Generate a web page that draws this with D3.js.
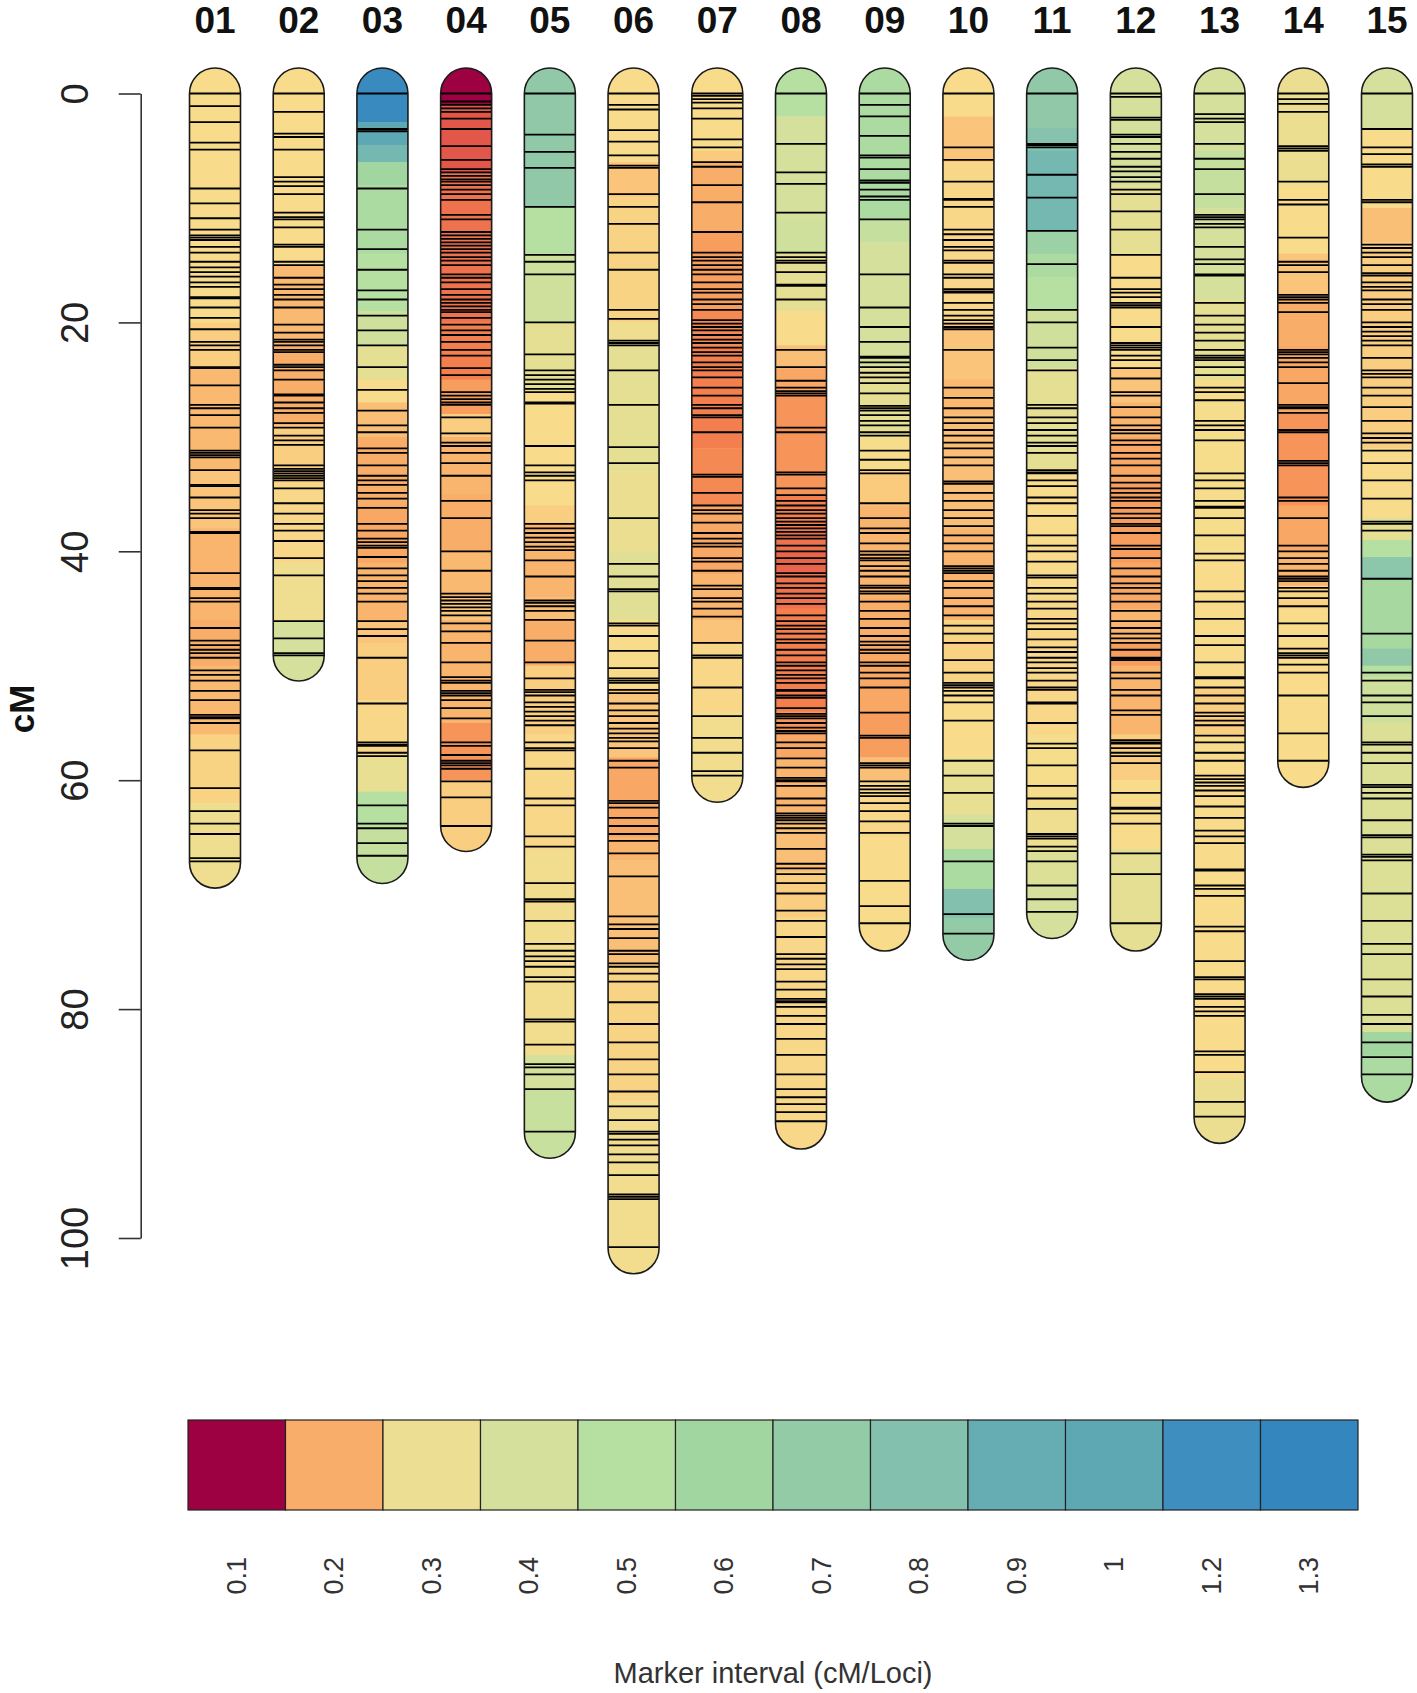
<!DOCTYPE html>
<html>
<head>
<meta charset="utf-8">
<script src="https://cdn.jsdelivr.net/npm/d3@7/dist/d3.min.js"></script>
<style>
  html, body { margin: 0; padding: 0; background: #fff; }
  svg { display: block; font-family: "Liberation Sans", Arial, sans-serif; }
</style>
</head>
<body>
<div id="chart"></div>
<script>
// chromosome names and genetic lengths (cM)
const chromosomes = ['01', '02', '03', '04', '05', '06', '07', '08', '09', '10', '11', '12', '13', '14', '15'];
const chrLengths  = [67.2, 49.1, 66.8, 64.0, 90.8, 100.9, 59.7, 90.0, 72.7, 73.5, 71.6, 72.7, 89.5, 58.4, 85.9];

// marker positions (cM), one list per chromosome
const markerPos = [
  [0, 1.1, 2.5, 4.3, 4.9, 8.3, 9.6, 10.9, 11.9, 12.4, 12.6, 12.8, 13.4, 13.9, 14.7, 15.2, 15.6, 16.0, 16.5, 16.9, 17.8, 17.9, 18.7, 19.6, 20.6, 21.7, 22.0, 22.4, 23.9, 24.0, 25.5, 27.2, 27.5, 28.1, 29.2, 31.2, 31.4, 31.6, 31.8, 32.9, 34.2, 34.3, 35.3, 36.4, 36.7, 37.1, 38.3, 38.4, 41.9, 43.2, 43.3, 44.1, 44.4, 46.7, 47.8, 48.2, 48.6, 48.9, 49.3, 50.4, 50.8, 51.3, 52.2, 53.0, 54.3, 54.5, 54.6, 55.0, 57.4, 60.7, 62.7, 63.8, 64.7, 66.8, 67.1],
  [0, 1.6, 3.5, 3.8, 4.9, 7.3, 7.7, 8.1, 8.8, 10.4, 10.8, 11.0, 11.7, 13.2, 13.4, 14.7, 15.0, 16.1, 16.7, 17.1, 17.6, 18.0, 18.7, 20.2, 20.9, 21.5, 21.7, 22.0, 22.4, 22.6, 23.7, 23.9, 24.2, 25.0, 26.3, 26.4, 27.0, 27.5, 27.9, 28.8, 29.2, 29.9, 30.3, 30.7, 32.5, 32.8, 33.0, 33.2, 33.4, 33.6, 33.8, 34.5, 35.8, 36.7, 37.6, 38.2, 39.1, 40.6, 42.1, 46.1, 47.6, 48.9, 49.1],
  [0, 3.1, 3.3, 8.3, 11.9, 13.6, 15.4, 17.2, 18.0, 19.4, 20.7, 22.0, 23.9, 25.9, 27.7, 29.0, 29.6, 31.0, 31.4, 32.5, 33.4, 33.8, 34.2, 34.9, 35.4, 36.2, 37.6, 38.2, 38.9, 39.2, 39.5, 39.7, 40.5, 41.5, 42.1, 42.6, 43.2, 43.7, 44.4, 46.1, 46.8, 47.4, 49.3, 53.3, 56.7, 56.9, 57.0, 57.6, 57.9, 62.2, 63.8, 64.2, 65.5, 66.6],
  [0, 0.7, 1.0, 1.3, 1.6, 2.2, 3.1, 4.6, 5.8, 6.6, 6.9, 7.2, 7.5, 7.7, 8.0, 8.4, 8.8, 9.3, 10.6, 11.0, 12.1, 12.4, 12.7, 13.0, 13.3, 13.6, 13.9, 14.3, 14.6, 15.0, 15.8, 16.1, 16.5, 17.1, 17.6, 18.0, 18.3, 18.6, 18.9, 19.1, 19.6, 20.2, 20.7, 21.1, 21.7, 22.4, 22.9, 24.0, 24.6, 26.1, 26.4, 26.7, 27.0, 27.2, 28.3, 29.7, 30.5, 30.8, 31.4, 32.3, 33.4, 35.6, 37.1, 40.0, 41.7, 43.7, 44.0, 44.3, 44.6, 44.9, 45.2, 45.6, 46.3, 47.0, 48.0, 49.7, 51.0, 51.3, 51.5, 52.2, 52.4, 52.6, 53.0, 53.7, 54.6, 56.7, 57.0, 57.8, 58.3, 58.5, 58.7, 59.0, 60.1, 61.5, 64.0],
  [0, 3.6, 5.1, 6.5, 9.9, 14.1, 14.7, 15.8, 20.0, 22.8, 24.2, 24.6, 25.0, 25.4, 25.8, 26.1, 27.0, 27.1, 30.8, 32.5, 33.1, 33.4, 33.8, 37.6, 38.0, 38.4, 38.8, 39.2, 39.6, 39.9, 40.8, 42.2, 44.3, 44.5, 44.8, 45.2, 46.0, 47.8, 49.7, 51.1, 52.1, 52.3, 52.6, 53.2, 53.6, 54.0, 54.4, 54.8, 55.2, 56.7, 57.2, 57.4, 59.0, 61.6, 62.2, 64.9, 65.8, 69.0, 70.4, 70.6, 72.3, 74.3, 74.9, 75.4, 75.8, 76.3, 77.2, 77.6, 80.9, 81.1, 83.1, 84.8, 85.1, 85.7, 87.0, 90.7],
  [0, 1.0, 1.4, 3.2, 4.2, 5.4, 6.3, 6.5, 8.8, 9.9, 11.4, 13.9, 15.4, 18.9, 19.7, 21.6, 21.8, 22.0, 24.2, 27.2, 30.9, 32.3, 37.1, 41.1, 42.2, 43.3, 43.5, 46.3, 46.5, 47.4, 48.7, 50.2, 51.1, 51.3, 51.5, 52.1, 52.4, 53.3, 53.9, 54.4, 55.0, 55.5, 55.9, 56.3, 56.6, 57.2, 58.3, 58.9, 61.8, 62.0, 62.4, 63.3, 64.0, 64.7, 65.3, 66.4, 68.4, 71.9, 72.6, 73.0, 73.8, 74.9, 75.2, 76.0, 76.3, 76.9, 77.6, 79.4, 81.3, 82.9, 84.4, 85.7, 87.2, 88.5, 89.7, 90.7, 90.9, 91.4, 91.9, 92.7, 93.4, 94.5, 96.2, 96.4, 96.6, 100.8],
  [0, 0.2, 0.5, 0.8, 1.3, 2.2, 4.0, 4.7, 6.0, 6.4, 8.0, 9.5, 12.1, 13.9, 14.3, 14.6, 15.0, 15.4, 15.8, 16.5, 17.1, 17.4, 18.0, 18.4, 18.9, 19.8, 20.1, 20.4, 20.7, 21.1, 21.5, 21.8, 22.2, 22.6, 22.9, 23.5, 23.9, 24.2, 24.8, 25.7, 26.4, 27.2, 27.5, 28.1, 28.3, 29.6, 33.3, 33.5, 34.9, 36.0, 36.4, 36.7, 37.5, 38.4, 38.9, 39.3, 39.6, 40.6, 40.9, 41.7, 43.0, 43.3, 44.1, 44.4, 45.0, 45.7, 48.0, 49.1, 49.3, 51.9, 54.4, 56.3, 57.6, 59.2, 59.6],
  [0, 4.4, 6.9, 7.9, 10.4, 13.9, 14.3, 14.6, 14.8, 15.6, 16.7, 16.8, 18.0, 22.4, 23.9, 25.1, 25.7, 26.0, 26.2, 26.4, 29.2, 29.6, 33.1, 33.3, 34.5, 35.1, 35.6, 36.0, 36.4, 36.7, 37.1, 37.4, 37.7, 38.0, 38.3, 38.6, 38.9, 39.5, 40.0, 40.6, 41.1, 41.9, 42.2, 42.8, 43.2, 43.7, 44.1, 44.6, 45.6, 46.1, 46.5, 46.8, 47.2, 47.7, 48.0, 48.6, 49.1, 49.7, 50.0, 50.4, 50.8, 51.1, 51.5, 52.1, 52.2, 52.6, 52.8, 53.7, 54.2, 54.4, 54.6, 55.0, 55.4, 55.7, 55.9, 56.7, 57.2, 58.1, 58.9, 59.8, 60.0, 60.1, 60.5, 61.6, 62.2, 62.9, 63.1, 63.3, 63.5, 63.8, 64.2, 64.6, 66.0, 67.3, 67.7, 68.2, 69.0, 69.9, 71.4, 72.3, 73.7, 75.2, 75.6, 76.1, 76.5, 77.6, 78.3, 79.1, 79.3, 79.4, 79.8, 80.6, 81.3, 82.6, 84.0, 85.7, 87.0, 87.7, 88.3, 89.0, 89.8],
  [0, 1.0, 2.0, 3.7, 5.4, 5.6, 6.6, 7.6, 7.8, 8.4, 9.0, 9.3, 11.0, 15.8, 18.7, 20.4, 21.7, 23.0, 23.1, 23.5, 23.9, 24.4, 24.8, 25.3, 26.2, 27.3, 27.5, 27.7, 28.1, 28.6, 29.0, 29.6, 29.9, 31.2, 32.0, 32.9, 33.2, 35.8, 37.1, 38.0, 38.4, 39.3, 40.0, 40.3, 40.6, 40.8, 41.3, 41.7, 42.2, 43.0, 43.2, 43.5, 43.7, 44.4, 45.2, 45.9, 46.7, 47.4, 47.9, 48.2, 48.6, 48.9, 49.7, 50.0, 50.6, 51.1, 51.9, 54.1, 56.1, 56.3, 58.5, 58.7, 58.9, 60.1, 60.5, 60.8, 61.1, 61.4, 62.0, 62.7, 63.6, 64.6, 68.8, 71.0, 72.5],
  [0, 4.7, 5.8, 7.7, 9.2, 9.3, 9.9, 11.9, 12.3, 12.8, 13.4, 13.7, 14.6, 14.8, 15.8, 16.1, 17.1, 17.3, 17.4, 18.3, 18.9, 19.4, 19.8, 20.1, 20.4, 20.6, 22.4, 25.7, 26.6, 27.5, 28.3, 28.8, 29.4, 29.9, 30.5, 31.0, 31.8, 32.5, 33.9, 34.1, 34.9, 35.6, 36.4, 37.1, 37.8, 38.6, 39.3, 40.0, 41.3, 41.5, 41.7, 41.9, 42.6, 43.2, 44.1, 44.8, 45.6, 46.5, 47.2, 48.0, 49.5, 50.6, 51.5, 51.7, 51.9, 52.2, 52.6, 53.2, 54.8, 58.3, 59.6, 61.1, 63.8, 64.0, 67.1, 71.7, 73.4],
  [0, 4.4, 4.5, 4.7, 7.1, 9.1, 12.0, 14.9, 18.9, 20.0, 22.2, 23.3, 24.2, 27.2, 27.5, 28.3, 28.8, 29.4, 29.9, 30.5, 30.8, 31.4, 32.9, 33.1, 33.2, 33.8, 34.3, 35.3, 35.8, 36.9, 38.6, 39.5, 40.0, 40.9, 42.1, 42.3, 43.2, 43.7, 44.4, 45.0, 45.9, 46.3, 46.8, 47.7, 48.4, 48.8, 49.3, 49.7, 50.2, 50.6, 51.3, 51.9, 52.1, 53.2, 53.3, 55.0, 56.8, 57.2, 58.7, 60.5, 61.6, 62.5, 64.7, 64.9, 65.1, 65.8, 66.2, 67.1, 69.2, 70.4, 71.5],
  [0, 0.3, 2.1, 2.3, 3.6, 3.8, 4.4, 5.1, 5.7, 6.4, 6.8, 7.3, 7.7, 8.4, 8.8, 10.3, 11.9, 14.1, 16.1, 17.1, 17.4, 17.8, 18.3, 18.5, 18.7, 20.4, 21.8, 22.0, 22.2, 22.4, 22.9, 23.3, 24.0, 24.9, 26.1, 26.4, 27.4, 28.3, 29.0, 29.4, 29.7, 30.3, 30.7, 31.4, 31.9, 32.5, 33.4, 34.0, 34.5, 34.9, 35.3, 35.6, 36.2, 36.7, 37.1, 37.6, 37.8, 38.4, 39.5, 39.8, 40.6, 41.5, 42.2, 42.8, 43.2, 43.7, 44.4, 45.2, 46.1, 46.7, 47.2, 47.6, 48.0, 48.6, 49.3, 49.4, 49.5, 50.6, 51.1, 52.1, 52.6, 53.9, 54.3, 56.5, 56.7, 56.8, 57.2, 57.6, 57.9, 58.5, 61.1, 62.4, 62.5, 62.9, 63.8, 66.4, 68.2, 72.5],
  [0, 1.8, 2.2, 2.5, 4.4, 5.7, 6.6, 8.8, 10.6, 10.8, 11.0, 11.4, 11.7, 13.4, 14.5, 14.9, 15.8, 15.9, 18.3, 19.4, 20.2, 20.9, 21.6, 22.4, 22.9, 23.1, 23.3, 23.9, 24.6, 25.7, 26.1, 26.8, 28.6, 29.0, 29.4, 30.3, 33.2, 33.8, 34.5, 35.6, 36.1, 36.2, 37.1, 38.6, 40.2, 40.8, 43.5, 44.4, 45.9, 47.4, 48.2, 49.7, 51.0, 51.1, 51.9, 52.6, 53.3, 54.1, 54.4, 54.8, 55.2, 56.1, 56.7, 57.6, 58.3, 59.6, 59.9, 60.2, 60.5, 60.9, 61.4, 62.3, 63.3, 64.4, 64.9, 65.5, 67.8, 67.9, 69.2, 69.5, 70.1, 72.8, 73.2, 75.8, 77.2, 77.4, 78.7, 78.9, 79.1, 79.8, 80.2, 80.6, 83.7, 84.0, 85.5, 88.1, 89.4],
  [0, 0.5, 0.9, 1.6, 4.6, 4.8, 5.0, 7.7, 9.3, 9.7, 12.6, 14.7, 15.0, 15.6, 17.6, 17.8, 18.0, 18.3, 19.1, 22.4, 22.6, 22.8, 23.1, 23.5, 23.9, 25.3, 27.2, 27.4, 27.5, 27.9, 29.4, 29.6, 32.1, 32.3, 32.5, 35.3, 35.6, 37.1, 39.5, 40.0, 40.6, 41.1, 41.7, 42.2, 42.4, 42.6, 43.2, 43.5, 44.1, 44.8, 46.3, 47.4, 48.5, 48.9, 49.1, 49.3, 49.9, 50.6, 52.6, 55.9, 58.3],
  [0, 3.1, 4.7, 5.3, 6.2, 6.4, 9.3, 9.5, 13.2, 13.5, 13.9, 14.3, 15.0, 15.7, 15.9, 16.5, 16.9, 17.2, 18.0, 18.4, 18.9, 20.0, 20.4, 20.8, 21.2, 21.6, 22.0, 23.1, 24.2, 24.5, 24.8, 25.7, 26.4, 27.4, 28.6, 29.7, 30.1, 30.5, 31.2, 32.3, 33.8, 35.4, 37.4, 37.6, 38.2, 42.4, 47.2, 50.6, 51.3, 52.6, 53.2, 54.4, 56.7, 56.9, 57.6, 58.5, 60.4, 60.6, 61.1, 61.6, 63.5, 64.8, 65.0, 66.5, 66.7, 67.0, 69.9, 72.3, 74.3, 75.2, 77.4, 78.9, 80.5, 81.3, 82.9, 84.2, 85.7]
];

// local marker interval (cM/locus) along each chromosome: [start cM, interval]
const intervalBands = [
  [[0, 0.3], [20, 0.27], [24, 0.23], [33, 0.25], [38, 0.22], [46, 0.21], [50, 0.23], [56, 0.28], [62, 0.33]],
  [[0, 0.3], [15, 0.23], [22, 0.21], [29, 0.27], [34, 0.29], [41, 0.33], [46, 0.4]],
  [[0, 1.25], [2.5, 1.0], [4.5, 0.85], [6, 0.6], [8, 0.55], [14, 0.5], [19, 0.42], [22, 0.36], [25, 0.3], [27, 0.24], [30, 0.21], [36, 0.2], [41, 0.22], [46, 0.25], [48, 0.27], [53, 0.29], [58, 0.35], [61, 0.5], [64, 0.45]],
  [[0, 0.1], [1, 0.13], [7, 0.15], [20, 0.16], [25, 0.19], [28, 0.27], [30, 0.22], [35, 0.21], [40, 0.23], [44, 0.25], [46, 0.22], [55, 0.18], [60, 0.27]],
  [[0, 0.72], [10, 0.5], [14, 0.42], [20, 0.36], [26, 0.3], [36, 0.27], [37.5, 0.22], [44, 0.24], [46, 0.21], [50, 0.27], [56, 0.29], [66, 0.32], [84, 0.4], [87, 0.44]],
  [[0, 0.3], [6, 0.25], [9, 0.28], [20, 0.33], [22, 0.36], [33, 0.34], [40, 0.37], [46, 0.3], [52, 0.25], [58, 0.2], [65, 0.22], [67, 0.24], [76, 0.28], [88, 0.32]],
  [[0, 0.3], [5, 0.26], [6, 0.21], [12, 0.19], [19, 0.17], [22, 0.16], [31, 0.17], [36, 0.2], [42, 0.22], [46, 0.25], [48, 0.29], [54, 0.32]],
  [[0, 0.5], [2, 0.4], [11, 0.42], [14, 0.36], [19, 0.3], [22, 0.24], [24, 0.2], [26, 0.18], [35, 0.16], [38, 0.15], [40, 0.14], [42, 0.15], [45, 0.16], [54, 0.18], [56, 0.2], [58, 0.22], [63, 0.24], [68, 0.27], [72, 0.29]],
  [[0, 0.55], [11, 0.45], [13, 0.4], [24, 0.36], [30, 0.31], [33, 0.26], [36, 0.22], [44, 0.21], [48, 0.2], [54, 0.19], [58, 0.24], [60, 0.29], [65, 0.3]],
  [[0, 0.3], [2, 0.25], [6, 0.29], [20, 0.25], [25, 0.23], [28, 0.24], [38, 0.22], [46, 0.28], [52, 0.3], [58, 0.35], [63, 0.4], [66, 0.55], [69.5, 0.8], [72, 0.7]],
  [[0, 0.72], [3, 0.78], [5, 0.85], [12, 0.65], [14, 0.55], [16, 0.5], [19, 0.42], [24, 0.36], [33, 0.3], [44, 0.29], [56, 0.31], [62, 0.33], [66, 0.38], [69, 0.4]],
  [[0, 0.4], [8, 0.36], [14, 0.3], [24, 0.25], [27, 0.22], [30, 0.2], [34, 0.19], [41, 0.2], [45, 0.22], [48, 0.19], [50, 0.22], [56, 0.27], [60, 0.3], [66, 0.36]],
  [[0, 0.4], [5, 0.45], [10, 0.4], [18, 0.36], [25, 0.31], [40, 0.3], [52, 0.27], [56, 0.3], [86, 0.34]],
  [[0, 0.34], [8, 0.3], [14, 0.25], [18, 0.21], [22, 0.2], [28, 0.18], [36, 0.2], [40, 0.22], [43, 0.28], [45, 0.3]],
  [[0, 0.4], [3, 0.3], [10, 0.24], [13, 0.27], [31, 0.3], [37, 0.36], [39, 0.5], [40.5, 0.75], [42.5, 0.58], [48.5, 0.72], [50, 0.5], [51, 0.42], [55, 0.38], [82, 0.6], [84, 0.55]]
];

// legend classes
const legendValues = [0.1, 0.2, 0.3, 0.4, 0.5, 0.6, 0.7, 0.8, 0.9, 1, 1.2, 1.3];
const legendLabels = ['0.1', '0.2', '0.3', '0.4', '0.5', '0.6', '0.7', '0.8', '0.9', '1', '1.2', '1.3'];
const legendColors = ['#9e0142', '#f9ad6a', '#ecdf94', '#d4e09b', '#b6e0a1', '#a2d6a0', '#94cba7', '#83c0ae', '#66adb3', '#5ea8b4', '#3e8fc0', '#3486be'];

// finer colour ramp used for the chromosome fill
const rampValues = [0.1, 0.13, 0.16, 0.2, 0.25, 0.3, 0.35, 0.4, 0.5, 0.6, 0.7, 0.8, 0.9, 1, 1.2, 1.3];
const rampColors = ['#9e0142', '#e2574a', '#f47f4e', '#f8a864', '#fac57a', '#f8dc8b', '#e9df92', '#d4e09b', '#b6e0a1', '#a2d6a0', '#94cba7', '#83c0ae', '#66adb3', '#5ea8b4', '#3e8fc0', '#3486be'];

const yTicks = [0, 20, 40, 60, 80, 100];

const W = 1417, H = 1693;
const FONT = '"Liberation Sans", Arial, sans-serif';

const svg = d3.select('#chart').append('svg')
  .attr('width', W).attr('height', H)
  .attr('viewBox', `0 0 ${W} ${H}`);

// scales
const y = d3.scaleLinear().domain([0, 100]).range([93.5, 1238]);
const x = d3.scalePoint().domain(chromosomes).range([215, 1387]);
const chrW = 51;
const r = chrW / 2;

const color = d3.scaleLinear().domain(rampValues).range(rampColors)
  .interpolate(d3.interpolateRgb).clamp(true);

// y axis
const axisG = svg.append('g')
  .attr('transform', 'translate(140.7,0)')
  .call(d3.axisLeft(y).tickValues(yTicks).tickSize(22).tickSizeOuter(0).tickPadding(0));
axisG.select('.domain').attr('stroke', '#333').attr('stroke-width', 1.6);
axisG.selectAll('.tick line').attr('stroke', '#333').attr('stroke-width', 1.6);
axisG.selectAll('.tick text')
  .attr('transform', 'rotate(-90)')
  .attr('x', 0).attr('y', -53).attr('dy', 0)
  .attr('text-anchor', 'middle')
  .attr('fill', '#222')
  .attr('font-size', 38)
  .attr('font-family', FONT);

svg.append('text')
  .attr('transform', 'translate(34,709) rotate(-90)')
  .attr('text-anchor', 'middle')
  .attr('font-size', 35)
  .attr('font-weight', 'bold')
  .attr('fill', '#111')
  .text('cM');

// chromosome labels
svg.append('g').selectAll('text')
  .data(chromosomes)
  .join('text')
  .attr('x', d => x(d))
  .attr('y', 33)
  .attr('text-anchor', 'middle')
  .attr('font-size', 37)
  .attr('font-weight', 'bold')
  .attr('fill', '#111')
  .text(d => d);

// chromosomes
const defs = svg.append('defs');
chromosomes.forEach((chr, i) => {
  const len = chrLengths[i];
  const top = y(0) - r;
  const bottom = y(len) + r;

  defs.append('clipPath').attr('id', `clip-${chr}`)
    .append('rect')
    .attr('x', -r).attr('y', top)
    .attr('width', chrW).attr('height', bottom - top)
    .attr('rx', r).attr('ry', r);

  const g = svg.append('g').attr('transform', `translate(${x(chr)},0)`);
  const inner = g.append('g').attr('clip-path', `url(#clip-${chr})`);

  const bands = intervalBands[i];
  inner.selectAll('rect.band')
    .data(bands)
    .join('rect')
    .attr('class', 'band')
    .attr('x', -r)
    .attr('width', chrW)
    .attr('y', (d, k) => k === 0 ? top : y(d[0]))
    .attr('height', (d, k) => {
      const y0 = k === 0 ? top : y(d[0]);
      const y1 = k === bands.length - 1 ? bottom : y(bands[k + 1][0]);
      return y1 - y0 + 0.5;
    })
    .attr('fill', d => color(d[1]));

  inner.selectAll('line.marker')
    .data(markerPos[i])
    .join('line')
    .attr('class', 'marker')
    .attr('x1', -r).attr('x2', r)
    .attr('y1', d => y(d)).attr('y2', d => y(d))
    .attr('stroke', '#000')
    .attr('stroke-width', 1.8);

  g.append('rect')
    .attr('x', -r).attr('y', top)
    .attr('width', chrW).attr('height', bottom - top)
    .attr('rx', r).attr('ry', r)
    .attr('fill', 'none')
    .attr('stroke', '#1a1a1a')
    .attr('stroke-width', 1.6);
});

// colour legend
const lx = d3.scaleBand().domain(legendLabels).range([188, 1358]).padding(0);
const legend = svg.append('g');
legend.selectAll('rect')
  .data(legendLabels)
  .join('rect')
  .attr('x', d => lx(d))
  .attr('y', 1420)
  .attr('width', lx.bandwidth())
  .attr('height', 90)
  .attr('fill', (d, i) => legendColors[i])
  .attr('stroke', '#222')
  .attr('stroke-width', 1.2);

legend.selectAll('text')
  .data(legendLabels)
  .join('text')
  .attr('transform', d => `translate(${lx(d) + lx.bandwidth() / 2 + 9},1557) rotate(-90)`)
  .attr('text-anchor', 'end')
  .attr('font-size', 27)
  .attr('fill', '#333')
  .text(d => d);

svg.append('text')
  .attr('x', (188 + 1358) / 2)
  .attr('y', 1683)
  .attr('text-anchor', 'middle')
  .attr('font-size', 29)
  .attr('fill', '#333')
  .text('Marker interval (cM/Loci)');
</script>
</body>
</html>
